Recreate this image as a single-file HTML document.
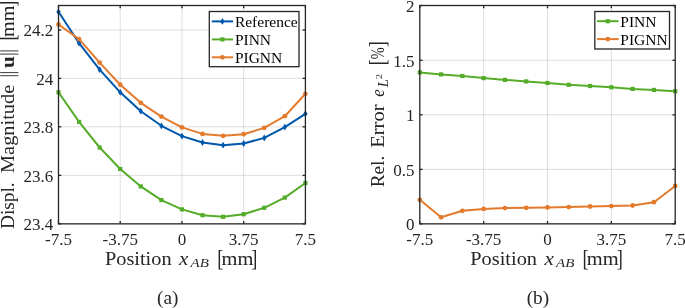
<!DOCTYPE html>
<html><head><meta charset="utf-8"><style>
html,body{margin:0;padding:0;background:#fff;width:685px;height:308px;overflow:hidden}
svg{display:block;will-change:transform}
text{font-family:"Liberation Serif",serif;fill:#262626;font-kerning:none}
.tk{font-size:17px}
.lg{font-size:15.5px;fill:#000}
.cap{font-size:18px;fill:#000}
</style></head><body>
<svg width="685" height="308" viewBox="0 0 685 308">
<rect width="685" height="308" fill="#fff"/>
<line x1="120.22" y1="5.5" x2="120.22" y2="223.85" stroke="#262626" stroke-opacity="0.15" stroke-width="1"/>
<line x1="181.95" y1="5.5" x2="181.95" y2="223.85" stroke="#262626" stroke-opacity="0.15" stroke-width="1"/>
<line x1="243.67" y1="5.5" x2="243.67" y2="223.85" stroke="#262626" stroke-opacity="0.15" stroke-width="1"/>
<line x1="58.5" y1="175.40" x2="305.4" y2="175.40" stroke="#262626" stroke-opacity="0.15" stroke-width="1"/>
<line x1="58.5" y1="126.80" x2="305.4" y2="126.80" stroke="#262626" stroke-opacity="0.15" stroke-width="1"/>
<line x1="58.5" y1="78.40" x2="305.4" y2="78.40" stroke="#262626" stroke-opacity="0.15" stroke-width="1"/>
<line x1="58.5" y1="30.00" x2="305.4" y2="30.00" stroke="#262626" stroke-opacity="0.15" stroke-width="1"/>
<line x1="483.65" y1="5.5" x2="483.65" y2="223.85" stroke="#262626" stroke-opacity="0.15" stroke-width="1"/>
<line x1="547.50" y1="5.5" x2="547.50" y2="223.85" stroke="#262626" stroke-opacity="0.15" stroke-width="1"/>
<line x1="611.35" y1="5.5" x2="611.35" y2="223.85" stroke="#262626" stroke-opacity="0.15" stroke-width="1"/>
<line x1="419.8" y1="169.40" x2="675.2" y2="169.40" stroke="#262626" stroke-opacity="0.15" stroke-width="1"/>
<line x1="419.8" y1="114.80" x2="675.2" y2="114.80" stroke="#262626" stroke-opacity="0.15" stroke-width="1"/>
<line x1="419.8" y1="60.30" x2="675.2" y2="60.30" stroke="#262626" stroke-opacity="0.15" stroke-width="1"/>
<polyline points="58.50,11.80 79.08,43.20 99.65,69.60 120.22,92.30 140.80,111.20 161.38,125.80 181.95,136.10 202.52,142.50 223.10,145.20 243.67,143.50 264.25,137.90 284.82,127.10 305.40,113.80" fill="none" stroke="#0058AC" stroke-width="2.0" stroke-linejoin="round"/>
<path d="M58.50 8.40L60.70 11.80L58.50 15.20L56.30 11.80Z" fill="#0058AC"/><path d="M79.08 39.80L81.28 43.20L79.08 46.60L76.88 43.20Z" fill="#0058AC"/><path d="M99.65 66.20L101.85 69.60L99.65 73.00L97.45 69.60Z" fill="#0058AC"/><path d="M120.22 88.90L122.42 92.30L120.22 95.70L118.02 92.30Z" fill="#0058AC"/><path d="M140.80 107.80L143.00 111.20L140.80 114.60L138.60 111.20Z" fill="#0058AC"/><path d="M161.38 122.40L163.57 125.80L161.38 129.20L159.18 125.80Z" fill="#0058AC"/><path d="M181.95 132.70L184.15 136.10L181.95 139.50L179.75 136.10Z" fill="#0058AC"/><path d="M202.52 139.10L204.72 142.50L202.52 145.90L200.32 142.50Z" fill="#0058AC"/><path d="M223.10 141.80L225.30 145.20L223.10 148.60L220.90 145.20Z" fill="#0058AC"/><path d="M243.67 140.10L245.87 143.50L243.67 146.90L241.47 143.50Z" fill="#0058AC"/><path d="M264.25 134.50L266.45 137.90L264.25 141.30L262.05 137.90Z" fill="#0058AC"/><path d="M284.82 123.70L287.02 127.10L284.82 130.50L282.62 127.10Z" fill="#0058AC"/><path d="M305.40 110.40L307.60 113.80L305.40 117.20L303.20 113.80Z" fill="#0058AC"/>
<polyline points="58.50,92.30 79.08,121.90 99.65,147.50 120.22,169.00 140.80,186.40 161.38,200.10 181.95,209.40 202.52,215.20 223.10,216.80 243.67,214.20 264.25,207.80 284.82,197.60 305.40,183.00" fill="none" stroke="#55AC29" stroke-width="2.0" stroke-linejoin="round"/>
<rect x="56.40" y="90.20" width="4.20" height="4.20" fill="#55AC29"/><rect x="76.98" y="119.80" width="4.20" height="4.20" fill="#55AC29"/><rect x="97.55" y="145.40" width="4.20" height="4.20" fill="#55AC29"/><rect x="118.12" y="166.90" width="4.20" height="4.20" fill="#55AC29"/><rect x="138.70" y="184.30" width="4.20" height="4.20" fill="#55AC29"/><rect x="159.28" y="198.00" width="4.20" height="4.20" fill="#55AC29"/><rect x="179.85" y="207.30" width="4.20" height="4.20" fill="#55AC29"/><rect x="200.42" y="213.10" width="4.20" height="4.20" fill="#55AC29"/><rect x="221.00" y="214.70" width="4.20" height="4.20" fill="#55AC29"/><rect x="241.57" y="212.10" width="4.20" height="4.20" fill="#55AC29"/><rect x="262.15" y="205.70" width="4.20" height="4.20" fill="#55AC29"/><rect x="282.72" y="195.50" width="4.20" height="4.20" fill="#55AC29"/><rect x="303.30" y="180.90" width="4.20" height="4.20" fill="#55AC29"/>
<polyline points="58.50,24.50 79.08,39.10 99.65,62.60 120.22,84.70 140.80,102.80 161.38,116.60 181.95,127.40 202.52,133.90 223.10,135.80 243.67,134.20 264.25,127.90 284.82,116.20 305.40,93.80" fill="none" stroke="#E47A2C" stroke-width="2.0" stroke-linejoin="round"/>
<circle cx="58.50" cy="24.50" r="2.4" fill="#E47A2C"/><circle cx="79.08" cy="39.10" r="2.4" fill="#E47A2C"/><circle cx="99.65" cy="62.60" r="2.4" fill="#E47A2C"/><circle cx="120.22" cy="84.70" r="2.4" fill="#E47A2C"/><circle cx="140.80" cy="102.80" r="2.4" fill="#E47A2C"/><circle cx="161.38" cy="116.60" r="2.4" fill="#E47A2C"/><circle cx="181.95" cy="127.40" r="2.4" fill="#E47A2C"/><circle cx="202.52" cy="133.90" r="2.4" fill="#E47A2C"/><circle cx="223.10" cy="135.80" r="2.4" fill="#E47A2C"/><circle cx="243.67" cy="134.20" r="2.4" fill="#E47A2C"/><circle cx="264.25" cy="127.90" r="2.4" fill="#E47A2C"/><circle cx="284.82" cy="116.20" r="2.4" fill="#E47A2C"/><circle cx="305.40" cy="93.80" r="2.4" fill="#E47A2C"/>
<polyline points="419.80,72.40 441.08,74.40 462.37,76.00 483.65,78.10 504.93,79.90 526.22,81.40 547.50,83.00 568.78,84.80 590.07,86.00 611.35,87.30 632.63,88.90 653.92,89.90 675.20,91.20" fill="none" stroke="#55AC29" stroke-width="2.0" stroke-linejoin="round"/>
<rect x="417.70" y="70.30" width="4.20" height="4.20" fill="#55AC29"/><rect x="438.98" y="72.30" width="4.20" height="4.20" fill="#55AC29"/><rect x="460.27" y="73.90" width="4.20" height="4.20" fill="#55AC29"/><rect x="481.55" y="76.00" width="4.20" height="4.20" fill="#55AC29"/><rect x="502.83" y="77.80" width="4.20" height="4.20" fill="#55AC29"/><rect x="524.12" y="79.30" width="4.20" height="4.20" fill="#55AC29"/><rect x="545.40" y="80.90" width="4.20" height="4.20" fill="#55AC29"/><rect x="566.68" y="82.70" width="4.20" height="4.20" fill="#55AC29"/><rect x="587.97" y="83.90" width="4.20" height="4.20" fill="#55AC29"/><rect x="609.25" y="85.20" width="4.20" height="4.20" fill="#55AC29"/><rect x="630.53" y="86.80" width="4.20" height="4.20" fill="#55AC29"/><rect x="651.82" y="87.80" width="4.20" height="4.20" fill="#55AC29"/><rect x="673.10" y="89.10" width="4.20" height="4.20" fill="#55AC29"/>
<polyline points="419.80,199.80 441.08,217.30 462.37,210.80 483.65,208.90 504.93,208.10 526.22,207.80 547.50,207.40 568.78,207.10 590.07,206.50 611.35,206.10 632.63,205.50 653.92,202.20 675.20,186.00" fill="none" stroke="#E47A2C" stroke-width="2.0" stroke-linejoin="round"/>
<circle cx="419.80" cy="199.80" r="2.4" fill="#E47A2C"/><circle cx="441.08" cy="217.30" r="2.4" fill="#E47A2C"/><circle cx="462.37" cy="210.80" r="2.4" fill="#E47A2C"/><circle cx="483.65" cy="208.90" r="2.4" fill="#E47A2C"/><circle cx="504.93" cy="208.10" r="2.4" fill="#E47A2C"/><circle cx="526.22" cy="207.80" r="2.4" fill="#E47A2C"/><circle cx="547.50" cy="207.40" r="2.4" fill="#E47A2C"/><circle cx="568.78" cy="207.10" r="2.4" fill="#E47A2C"/><circle cx="590.07" cy="206.50" r="2.4" fill="#E47A2C"/><circle cx="611.35" cy="206.10" r="2.4" fill="#E47A2C"/><circle cx="632.63" cy="205.50" r="2.4" fill="#E47A2C"/><circle cx="653.92" cy="202.20" r="2.4" fill="#E47A2C"/><circle cx="675.20" cy="186.00" r="2.4" fill="#E47A2C"/>
<rect x="58.5" y="5.5" width="246.90" height="218.35" fill="none" stroke="#262626" stroke-width="1.3"/>
<line x1="58.50" y1="223.85" x2="58.50" y2="221.04999999999998" stroke="#262626" stroke-width="1.3"/>
<line x1="58.50" y1="5.5" x2="58.50" y2="8.3" stroke="#262626" stroke-width="1.3"/>
<line x1="120.22" y1="223.85" x2="120.22" y2="221.04999999999998" stroke="#262626" stroke-width="1.3"/>
<line x1="120.22" y1="5.5" x2="120.22" y2="8.3" stroke="#262626" stroke-width="1.3"/>
<line x1="181.95" y1="223.85" x2="181.95" y2="221.04999999999998" stroke="#262626" stroke-width="1.3"/>
<line x1="181.95" y1="5.5" x2="181.95" y2="8.3" stroke="#262626" stroke-width="1.3"/>
<line x1="243.67" y1="223.85" x2="243.67" y2="221.04999999999998" stroke="#262626" stroke-width="1.3"/>
<line x1="243.67" y1="5.5" x2="243.67" y2="8.3" stroke="#262626" stroke-width="1.3"/>
<line x1="305.40" y1="223.85" x2="305.40" y2="221.04999999999998" stroke="#262626" stroke-width="1.3"/>
<line x1="305.40" y1="5.5" x2="305.40" y2="8.3" stroke="#262626" stroke-width="1.3"/>
<line x1="58.5" y1="223.85" x2="61.3" y2="223.85" stroke="#262626" stroke-width="1.3"/>
<line x1="305.4" y1="223.85" x2="302.59999999999997" y2="223.85" stroke="#262626" stroke-width="1.3"/>
<line x1="58.5" y1="175.40" x2="61.3" y2="175.40" stroke="#262626" stroke-width="1.3"/>
<line x1="305.4" y1="175.40" x2="302.59999999999997" y2="175.40" stroke="#262626" stroke-width="1.3"/>
<line x1="58.5" y1="126.80" x2="61.3" y2="126.80" stroke="#262626" stroke-width="1.3"/>
<line x1="305.4" y1="126.80" x2="302.59999999999997" y2="126.80" stroke="#262626" stroke-width="1.3"/>
<line x1="58.5" y1="78.40" x2="61.3" y2="78.40" stroke="#262626" stroke-width="1.3"/>
<line x1="305.4" y1="78.40" x2="302.59999999999997" y2="78.40" stroke="#262626" stroke-width="1.3"/>
<line x1="58.5" y1="30.00" x2="61.3" y2="30.00" stroke="#262626" stroke-width="1.3"/>
<line x1="305.4" y1="30.00" x2="302.59999999999997" y2="30.00" stroke="#262626" stroke-width="1.3"/>
<rect x="419.8" y="5.5" width="255.40" height="218.35" fill="none" stroke="#262626" stroke-width="1.3"/>
<line x1="419.80" y1="223.85" x2="419.80" y2="221.04999999999998" stroke="#262626" stroke-width="1.3"/>
<line x1="419.80" y1="5.5" x2="419.80" y2="8.3" stroke="#262626" stroke-width="1.3"/>
<line x1="483.65" y1="223.85" x2="483.65" y2="221.04999999999998" stroke="#262626" stroke-width="1.3"/>
<line x1="483.65" y1="5.5" x2="483.65" y2="8.3" stroke="#262626" stroke-width="1.3"/>
<line x1="547.50" y1="223.85" x2="547.50" y2="221.04999999999998" stroke="#262626" stroke-width="1.3"/>
<line x1="547.50" y1="5.5" x2="547.50" y2="8.3" stroke="#262626" stroke-width="1.3"/>
<line x1="611.35" y1="223.85" x2="611.35" y2="221.04999999999998" stroke="#262626" stroke-width="1.3"/>
<line x1="611.35" y1="5.5" x2="611.35" y2="8.3" stroke="#262626" stroke-width="1.3"/>
<line x1="675.20" y1="223.85" x2="675.20" y2="221.04999999999998" stroke="#262626" stroke-width="1.3"/>
<line x1="675.20" y1="5.5" x2="675.20" y2="8.3" stroke="#262626" stroke-width="1.3"/>
<line x1="419.8" y1="223.85" x2="422.6" y2="223.85" stroke="#262626" stroke-width="1.3"/>
<line x1="675.2" y1="223.85" x2="672.4000000000001" y2="223.85" stroke="#262626" stroke-width="1.3"/>
<line x1="419.8" y1="169.40" x2="422.6" y2="169.40" stroke="#262626" stroke-width="1.3"/>
<line x1="675.2" y1="169.40" x2="672.4000000000001" y2="169.40" stroke="#262626" stroke-width="1.3"/>
<line x1="419.8" y1="114.80" x2="422.6" y2="114.80" stroke="#262626" stroke-width="1.3"/>
<line x1="675.2" y1="114.80" x2="672.4000000000001" y2="114.80" stroke="#262626" stroke-width="1.3"/>
<line x1="419.8" y1="60.30" x2="422.6" y2="60.30" stroke="#262626" stroke-width="1.3"/>
<line x1="675.2" y1="60.30" x2="672.4000000000001" y2="60.30" stroke="#262626" stroke-width="1.3"/>
<line x1="419.8" y1="5.50" x2="422.6" y2="5.50" stroke="#262626" stroke-width="1.3"/>
<line x1="675.2" y1="5.50" x2="672.4000000000001" y2="5.50" stroke="#262626" stroke-width="1.3"/>
<text x="58.50" y="244.6" text-anchor="middle" class="tk">-7.5</text>
<text x="120.22" y="244.6" text-anchor="middle" class="tk">-3.75</text>
<text x="181.95" y="244.6" text-anchor="middle" class="tk">0</text>
<text x="243.67" y="244.6" text-anchor="middle" class="tk">3.75</text>
<text x="305.40" y="244.6" text-anchor="middle" class="tk">7.5</text>
<text x="419.80" y="244.6" text-anchor="middle" class="tk">-7.5</text>
<text x="483.65" y="244.6" text-anchor="middle" class="tk">-3.75</text>
<text x="547.50" y="244.6" text-anchor="middle" class="tk">0</text>
<text x="611.35" y="244.6" text-anchor="middle" class="tk">3.75</text>
<text x="675.20" y="244.6" text-anchor="middle" class="tk">7.5</text>
<text x="53.3" y="230.25" text-anchor="end" class="tk">23.4</text>
<text x="53.3" y="181.80" text-anchor="end" class="tk">23.6</text>
<text x="53.3" y="133.20" text-anchor="end" class="tk">23.8</text>
<text x="53.3" y="84.80" text-anchor="end" class="tk">24</text>
<text x="53.3" y="36.40" text-anchor="end" class="tk">24.2</text>
<text x="414.5" y="230.25" text-anchor="end" class="tk">0</text>
<text x="414.5" y="175.80" text-anchor="end" class="tk">0.5</text>
<text x="414.5" y="121.20" text-anchor="end" class="tk">1</text>
<text x="414.5" y="66.70" text-anchor="end" class="tk">1.5</text>
<text x="414.5" y="11.90" text-anchor="end" class="tk">2</text>
<rect x="209.3" y="11.5" width="89.70" height="55.20" fill="#fff" stroke="#262626" stroke-width="1.3"/>
<line x1="211.8" y1="21.4" x2="233.0" y2="21.4" stroke="#0058AC" stroke-width="2.0"/>
<path d="M222.40 18.00L224.60 21.40L222.40 24.80L220.20 21.40Z" fill="#0058AC"/>
<text x="234.9" y="26.80" class="lg">Reference</text>
<line x1="211.8" y1="39.4" x2="233.0" y2="39.4" stroke="#55AC29" stroke-width="2.0"/>
<rect x="220.30" y="37.30" width="4.20" height="4.20" fill="#55AC29"/>
<text x="234.9" y="44.80" class="lg">PINN</text>
<line x1="211.8" y1="57.3" x2="233.0" y2="57.3" stroke="#E47A2C" stroke-width="2.0"/>
<circle cx="222.40" cy="57.30" r="2.4" fill="#E47A2C"/>
<text x="234.9" y="62.70" class="lg">PIGNN</text>
<rect x="594.8" y="11.5" width="74.70" height="37.50" fill="#fff" stroke="#262626" stroke-width="1.3"/>
<line x1="597.0" y1="21.2" x2="618.6" y2="21.2" stroke="#55AC29" stroke-width="2.0"/>
<rect x="605.70" y="19.10" width="4.20" height="4.20" fill="#55AC29"/>
<text x="620.3" y="26.60" class="lg">PINN</text>
<line x1="597.0" y1="39.1" x2="618.6" y2="39.1" stroke="#E47A2C" stroke-width="2.0"/>
<circle cx="607.80" cy="39.10" r="2.4" fill="#E47A2C"/>
<text x="620.3" y="44.50" class="lg">PIGNN</text>
<text x="104.91" y="265.00" font-size="19" fill="#262626" textLength="66.69" lengthAdjust="spacingAndGlyphs">Position</text>
<text x="179.06" y="265.00" font-size="19" font-style="italic" fill="#262626" textLength="9.40" lengthAdjust="spacingAndGlyphs">x</text>
<text x="190.62" y="267.40" font-size="13" font-style="italic" fill="#262626" textLength="18.31" lengthAdjust="spacingAndGlyphs">AB</text>
<text x="217.13" y="266.20" font-size="22.2" fill="#262626" textLength="6.13" lengthAdjust="spacingAndGlyphs">[</text>
<text x="221.47" y="265.00" font-size="19" fill="#262626" textLength="31.85" lengthAdjust="spacingAndGlyphs">mm</text>
<text x="251.23" y="266.20" font-size="22.2" fill="#262626" textLength="6.13" lengthAdjust="spacingAndGlyphs">]</text>
<text x="470.31" y="265.00" font-size="19" fill="#262626" textLength="66.69" lengthAdjust="spacingAndGlyphs">Position</text>
<text x="544.46" y="265.00" font-size="19" font-style="italic" fill="#262626" textLength="9.40" lengthAdjust="spacingAndGlyphs">x</text>
<text x="556.02" y="267.40" font-size="13" font-style="italic" fill="#262626" textLength="18.31" lengthAdjust="spacingAndGlyphs">AB</text>
<text x="582.53" y="266.20" font-size="22.2" fill="#262626" textLength="6.13" lengthAdjust="spacingAndGlyphs">[</text>
<text x="586.87" y="265.00" font-size="19" fill="#262626" textLength="31.85" lengthAdjust="spacingAndGlyphs">mm</text>
<text x="616.63" y="266.20" font-size="22.2" fill="#262626" textLength="6.13" lengthAdjust="spacingAndGlyphs">]</text>
<g transform="translate(13.60,0) rotate(-90)"><text x="-229.06" y="0.00" font-size="19" fill="#262626" textLength="46.73" lengthAdjust="spacingAndGlyphs">Displ.</text></g>
<g transform="translate(13.60,0) rotate(-90)"><text x="-172.99" y="0.00" font-size="19" fill="#262626" textLength="88.19" lengthAdjust="spacingAndGlyphs">Magnitude</text></g>
<g transform="translate(13.60,0) rotate(-90)"><text x="-68.12" y="0.00" font-size="19" font-weight="bold" fill="#262626" textLength="11.90" lengthAdjust="spacingAndGlyphs">u</text></g>
<g transform="translate(14.80,0) rotate(-90)"><text x="-40.60" y="0.00" font-size="22.2" fill="#262626" textLength="6.06" lengthAdjust="spacingAndGlyphs">[</text></g>
<g transform="translate(13.60,0) rotate(-90)"><text x="-36.92" y="0.00" font-size="19" fill="#262626" textLength="31.44" lengthAdjust="spacingAndGlyphs">mm</text></g>
<g transform="translate(14.80,0) rotate(-90)"><text x="-6.87" y="0.00" font-size="22.2" fill="#262626" textLength="6.13" lengthAdjust="spacingAndGlyphs">]</text></g>
<line x1="0.2" y1="50.9" x2="18.4" y2="50.9" stroke="#262626" stroke-width="0.9"/>
<line x1="0.2" y1="54.1" x2="18.4" y2="54.1" stroke="#262626" stroke-width="0.9"/>
<line x1="0.2" y1="72.6" x2="18.4" y2="72.6" stroke="#262626" stroke-width="0.9"/>
<line x1="0.2" y1="75.7" x2="18.4" y2="75.7" stroke="#262626" stroke-width="0.9"/>
<g transform="translate(384.00,0) rotate(-90)"><text x="-187.36" y="0.00" font-size="19" fill="#262626" textLength="31.63" lengthAdjust="spacingAndGlyphs">Rel.</text></g>
<g transform="translate(384.00,0) rotate(-90)"><text x="-147.69" y="0.00" font-size="19" fill="#262626" textLength="43.17" lengthAdjust="spacingAndGlyphs">Error</text></g>
<g transform="translate(384.00,0) rotate(-90)"><text x="-96.82" y="0.00" font-size="19" font-style="italic" fill="#262626" textLength="7.50" lengthAdjust="spacingAndGlyphs">e</text></g>
<g transform="translate(387.80,0) rotate(-90)"><text x="-87.33" y="0.00" font-size="14.5" font-style="italic" fill="#262626" textLength="8.01" lengthAdjust="spacingAndGlyphs">L</text></g>
<g transform="translate(382.00,0) rotate(-90)"><text x="-79.37" y="0.00" font-size="7.5" fill="#262626" textLength="5.36" lengthAdjust="spacingAndGlyphs">2</text></g>
<g transform="translate(385.20,0) rotate(-90)"><text x="-65.33" y="0.00" font-size="22.2" fill="#262626" textLength="5.98" lengthAdjust="spacingAndGlyphs">[</text></g>
<g transform="translate(384.00,0) rotate(-90)"><text x="-59.29" y="0.00" font-size="19" fill="#262626" textLength="11.87" lengthAdjust="spacingAndGlyphs">%</text></g>
<g transform="translate(385.20,0) rotate(-90)"><text x="-47.35" y="0.00" font-size="22.2" fill="#262626" textLength="5.98" lengthAdjust="spacingAndGlyphs">]</text></g>
<text x="157.06" y="304.00" font-size="19" fill="#000" textLength="21.29" lengthAdjust="spacingAndGlyphs">(a)</text>
<text x="526.66" y="304.00" font-size="19" fill="#000" textLength="22.39" lengthAdjust="spacingAndGlyphs">(b)</text>
</svg>
</body></html>
